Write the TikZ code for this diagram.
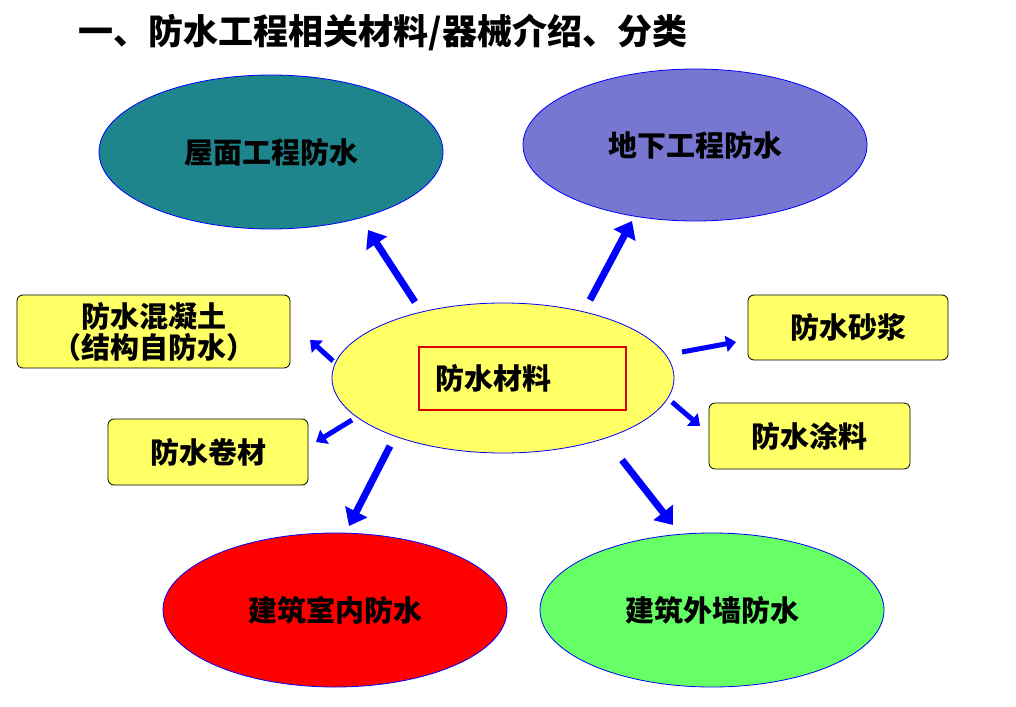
\documentclass[tikz,border=0pt]{standalone}
\usepackage{fontspec}
\newfontfamily\cjk{Noto Sans CJK SC}
\usetikzlibrary{arrows.meta,shapes.geometric}
\definecolor{teal1}{RGB}{31,133,140}
\definecolor{purp}{RGB}{119,119,210}
\definecolor{lgreen}{RGB}{102,255,102}
\definecolor{yel}{RGB}{255,255,102}
\tikzset{
 ell/.style={ellipse,draw=blue,line width=0.8pt,inner sep=0pt,font=\cjk\bfseries\fontsize{29}{33}\selectfont},
 ybox/.style={draw=black,line width=0.8pt,rounded corners=6pt,fill=yel,inner sep=0pt,font=\cjk\bfseries\fontsize{29}{31}\selectfont,align=center},
 barrow/.style={draw=blue,line width=7pt,-{Triangle[length=16pt,width=24pt]}},
 sarrow/.style={draw=blue,line width=5pt,-{Triangle[length=10pt,width=16pt]}}
}
\begin{document}
\begin{tikzpicture}[x=1pt,y=-1pt]
\useasboundingbox (0,0) rectangle (1016,706);
\node[anchor=west,font=\cjk\bfseries\fontsize{35}{38}\selectfont] (title) at (75,32) {一、防水工程相关材料/器械介绍、分类};
\node[ell,fill=teal1,minimum width=344pt,minimum height=154pt] (roof) at (271,152) {屋面工程防水};
\node[ell,fill=purp,minimum width=344pt,minimum height=152pt] (under) at (695,145) {地下工程防水};
\node[ell,fill=red,minimum width=344pt,minimum height=154pt] (indoor) at (335,610) {建筑室内防水};
\node[ell,fill=lgreen,minimum width=344pt,minimum height=154pt] (wall) at (712,610) {建筑外墙防水};
\node[ell,fill=yel,minimum width=342pt,minimum height=150pt] (center) at (503,378) {};
\node[draw=red!85!black,line width=1.5pt,minimum width=207pt,minimum height=63pt,font=\cjk\bfseries\fontsize{29}{33}\selectfont] (mat) at (522.5,378.5) {\hspace*{-58pt}防水材料};
\node[ybox,minimum width=273pt,minimum height=73pt] (conc) at (153.5,331.5) {防水混凝土\\（结构自防水）};
\node[ybox,minimum width=200pt,minimum height=66pt] (roll) at (208,452) {防水卷材};
\node[ybox,minimum width=200pt,minimum height=65pt] (mortar) at (848,327.5) {防水砂浆};
\node[ybox,minimum width=201pt,minimum height=66pt] (coat) at (809.5,436) {防水涂料};
\coordinate (a1) at (415,302); \coordinate (a2) at (590,300);
\coordinate (a3) at (333,361); \coordinate (a4) at (352,420);
\coordinate (a5) at (390,446); \coordinate (a6) at (622,460);
\coordinate (a7) at (682,352); \coordinate (a8) at (672,402);
\draw[barrow] (a1) -- (368,230);
\draw[barrow] (a2) -- (632,221);
\draw[barrow] (a5) -- (349,526);
\draw[barrow] (a6) -- (673,525);
\draw[sarrow] (a3) -- (310,340);
\draw[sarrow] (a4) -- (316,442);
\draw[sarrow] (a7) -- (736,342);
\draw[sarrow] (a8) -- (700,426);
\end{tikzpicture}
\end{document}
